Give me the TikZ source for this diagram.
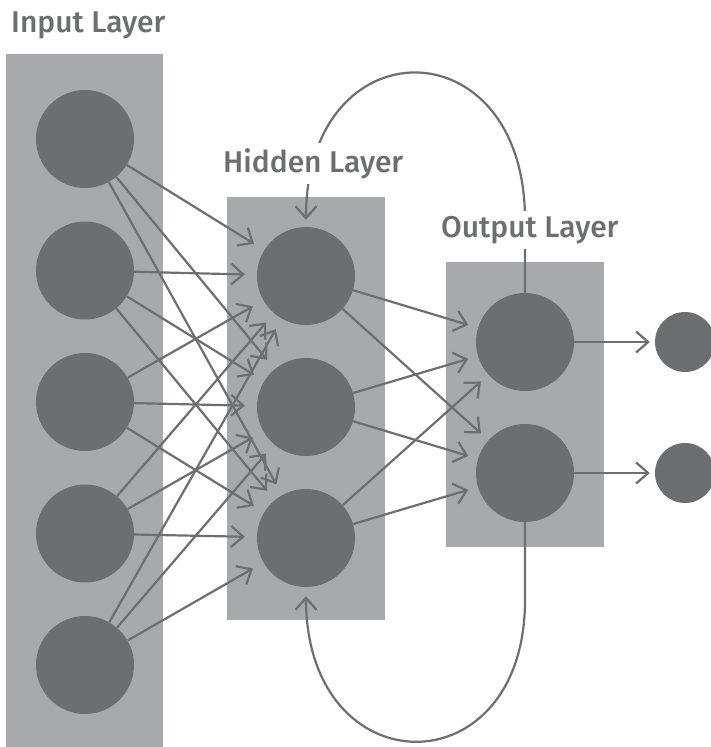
\documentclass[tikz,border=0pt]{standalone}
\usepackage{fontspec}
\setmainfont{Fira Sans}
\newfontfamily\titlefont{Fira Sans Medium}
\usetikzlibrary{arrows.meta}
\definecolor{nodegray}{HTML}{6D6E71}
\definecolor{layergray}{HTML}{A7A9AC}
\begin{document}
\begin{tikzpicture}[x=1pt,y=-1pt,
  neuron/.style={circle,fill=nodegray,inner sep=0pt,minimum size=98pt},
  result/.style={circle,fill=nodegray,inner sep=0pt,minimum size=60pt},
  layer/.style={fill=layergray},
  conn/.style={draw=nodegray,line width=2.2pt,-{Straight Barb[length=12pt,width=21pt,line width=2.2pt]},shorten >=12pt},
  title/.style={fill=white,text=nodegray,font=\titlefont\fontsize{30}{36}\selectfont,inner sep=5pt,anchor=base west}]
\useasboundingbox (0,0) rectangle (710,747);
% layer boxes
\fill[layer] (6,54) rectangle (163,747);
\fill[layer] (227,197) rectangle (385,620);
\fill[layer] (446,262) rectangle (604,547);
% neurons
\foreach \i in {1,...,5}
  \node (in\i)[neuron] at (85,{139+131.5*(\i-1)}) {};
\foreach \j in {1,2,3}
  \node (hid\j)[neuron] at (306,{276+131*(\j-1)}) {};
\foreach \k in {1,2} {
  \node (out\k)[neuron] at (525,{342+131*(\k-1)}) {};
  \node (res\k)[result] at (685,{342+131*(\k-1)}) {};
}
% connections
\foreach \i in {1,...,5}
  \foreach \j in {1,2,3}
    \draw[conn] (in\i) -- (hid\j);
\foreach \j in {1,2,3}
  \foreach \k in {1,2}
    \draw[conn,shorten >=10pt] (hid\j) -- (out\k);
\foreach \k in {1,2}
  \draw[conn,shorten >=5pt] (out\k) -- (res\k);
% recurrent loops
\draw[conn,shorten >=7pt] (out1.north) -- ++(0,-73) .. controls +(0,-196) and +(0,-203) .. (hid1.north);
\draw[conn,shorten >=9pt] (out2.south) -- ++(0,78) .. controls +(0,190) and +(0,201) .. (hid3.south);
% titles
\node (tin)[title] at (6,32) {Input Layer};
\node (thid)[title] at (218,172) {Hidden Layer};
\node (tout)[title] at (436,237) {Output Layer};
\end{tikzpicture}
\end{document}
